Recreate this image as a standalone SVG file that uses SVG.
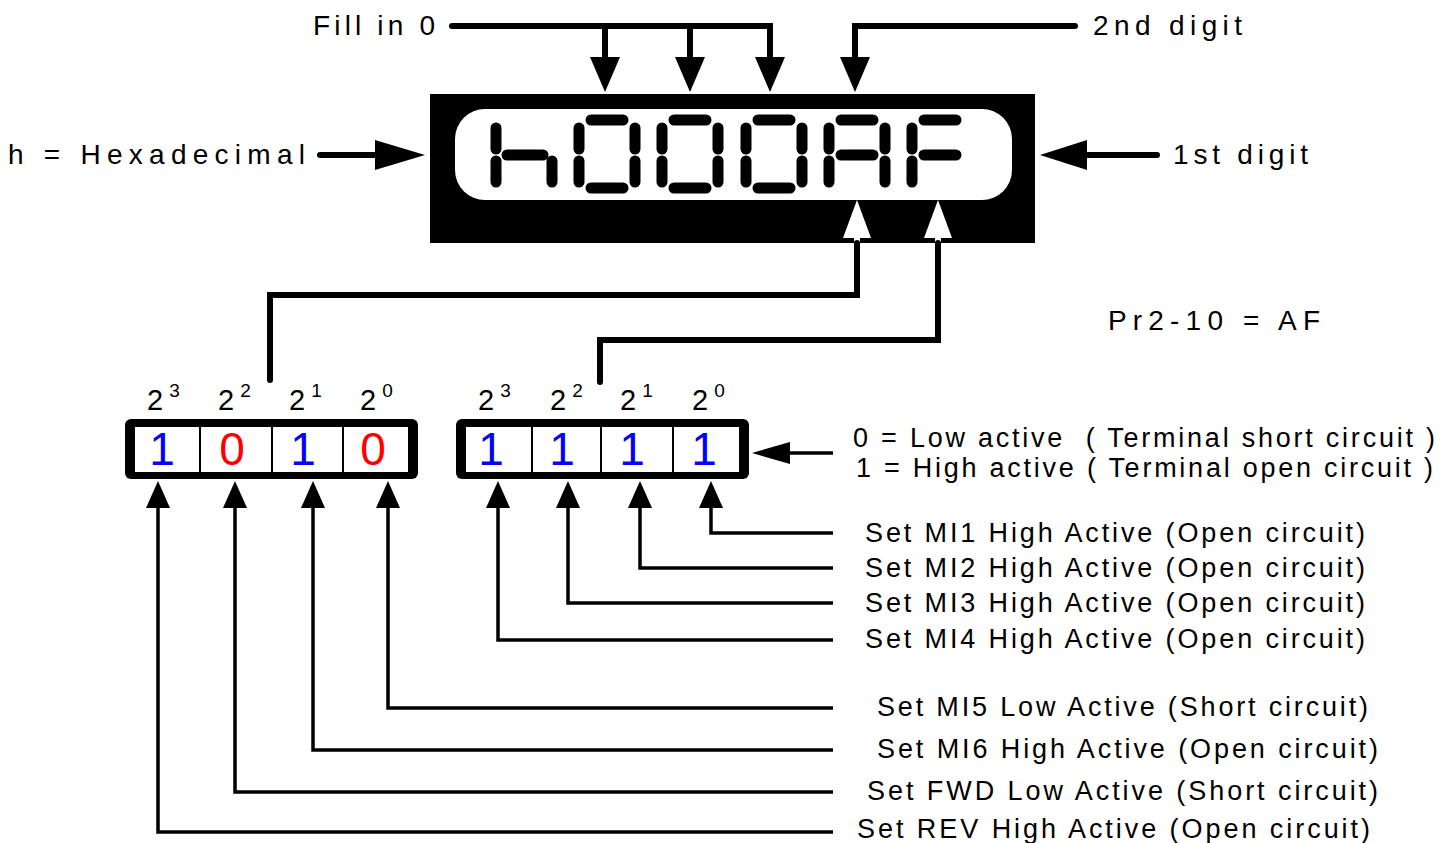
<svg xmlns="http://www.w3.org/2000/svg" width="1454" height="843" viewBox="0 0 1454 843">
<style>
text{font-family:"Liberation Sans",Arial,sans-serif;fill:#000}
.lbl{font-size:28px}
.set{font-size:27px}
.thick{fill:none;stroke:#000;stroke-width:6;stroke-linecap:round;stroke-linejoin:miter}
.thin{fill:none;stroke:#000;stroke-width:3.5;stroke-linecap:butt}
.seg{stroke:#000;stroke-width:11;stroke-linecap:round}
.b{fill:#0000ff;font-size:46px}
.r{fill:#ff0000;font-size:46px}
.pw{font-size:29px}
.sup{font-size:19px}
</style>
<defs>
<g id="top"><line class="seg" x1="12" y1="120" x2="44" y2="120"/></g>
<g id="mid"><line class="seg" x1="12" y1="155" x2="44" y2="155"/></g>
<g id="bot"><line class="seg" x1="12" y1="188" x2="44" y2="188"/></g>
<g id="ul"><line class="seg" x1="0" y1="128" x2="0" y2="149"/></g>
<g id="ll"><line class="seg" x1="0" y1="161" x2="0" y2="182"/></g>
<g id="ur"><line class="seg" x1="56" y1="128" x2="56" y2="149"/></g>
<g id="lr"><line class="seg" x1="56" y1="161" x2="56" y2="182"/></g>
<polygon id="ahDown" points="-15,-35 15,-35 0,0" fill="#000"/>
<polygon id="ahUp" points="-12,27 12,27 0,0" fill="#000"/>
</defs>

<g id="display">
<rect x="430" y="94" width="605" height="149" fill="#000"/>
<rect x="455" y="109" width="557" height="91" rx="30" ry="30" fill="#fff"/>
<g id="ch-h" transform="translate(496,0)"><use href="#ul"/><use href="#ll"/><line class="seg" x1="11" y1="155" x2="47" y2="155"/><use href="#lr"/></g>
<g id="ch-0a" transform="translate(579,0)"><use href="#top"/><use href="#ul"/><use href="#ur"/><use href="#ll"/><use href="#lr"/><use href="#bot"/></g>
<g id="ch-0b" transform="translate(662,0)"><use href="#top"/><use href="#ul"/><use href="#ur"/><use href="#ll"/><use href="#lr"/><use href="#bot"/></g>
<g id="ch-0c" transform="translate(746,0)"><use href="#top"/><use href="#ul"/><use href="#ur"/><use href="#ll"/><use href="#lr"/><use href="#bot"/></g>
<g id="ch-A" transform="translate(829,0)"><use href="#top"/><use href="#ul"/><use href="#ur"/><use href="#mid"/><use href="#ll"/><use href="#lr"/></g>
<g id="ch-F" transform="translate(912,0)"><use href="#top"/><use href="#ul"/><use href="#mid"/><use href="#ll"/></g>
<polygon points="857,200 843,238 871,238" fill="#fff"/>
<rect x="854" y="236" width="6" height="7" fill="#fff"/>
<polygon points="938,200 924,238 952,238" fill="#fff"/>
<rect x="935" y="236" width="6" height="7" fill="#fff"/>
</g>

<g id="labels-top">
<text class="lbl" x="313" y="35" textLength="122" lengthAdjust="spacing">Fill in 0</text>
<text class="lbl" x="1093" y="35" textLength="149" lengthAdjust="spacing">2nd digit</text>
<text class="lbl" x="8" y="164" textLength="297" lengthAdjust="spacing">h = Hexadecimal</text>
<text class="lbl" x="1173" y="164" textLength="135" lengthAdjust="spacing">1st digit</text>
<text class="lbl" x="1108" y="330" textLength="212" lengthAdjust="spacing">Pr2-10 = AF</text>
</g>

<g id="box-left">
<rect x="125" y="419" width="293" height="60" rx="6" fill="#000"/>
<rect x="135" y="427" width="273" height="45" fill="#fff"/>
<line x1="200" y1="427" x2="200" y2="472" stroke="#000" stroke-width="2"/>
<line x1="272" y1="427" x2="272" y2="472" stroke="#000" stroke-width="2"/>
<line x1="343" y1="427" x2="343" y2="472" stroke="#000" stroke-width="2"/>
<text class="b" x="162" y="465" text-anchor="middle">1</text>
<text class="r" x="232" y="465" text-anchor="middle">0</text>
<text class="b" x="303" y="465" text-anchor="middle">1</text>
<text class="r" x="373" y="465" text-anchor="middle">0</text>
<text class="pw" x="147" y="410">2<tspan class="sup" dx="6" dy="-13">3</tspan></text>
<text class="pw" x="218" y="410">2<tspan class="sup" dx="6" dy="-13">2</tspan></text>
<text class="pw" x="289" y="410">2<tspan class="sup" dx="6" dy="-13">1</tspan></text>
<text class="pw" x="360" y="410">2<tspan class="sup" dx="6" dy="-13">0</tspan></text>
</g>

<g id="box-right">
<rect x="456" y="419" width="293" height="60" rx="6" fill="#000"/>
<rect x="466" y="427" width="273" height="45" fill="#fff"/>
<line x1="532" y1="427" x2="532" y2="472" stroke="#000" stroke-width="2"/>
<line x1="601" y1="427" x2="601" y2="472" stroke="#000" stroke-width="2"/>
<line x1="673" y1="427" x2="673" y2="472" stroke="#000" stroke-width="2"/>
<text class="b" x="491" y="465" text-anchor="middle">1</text>
<text class="b" x="562" y="465" text-anchor="middle">1</text>
<text class="b" x="632" y="465" text-anchor="middle">1</text>
<text class="b" x="704" y="465" text-anchor="middle">1</text>
<text class="pw" x="478" y="410">2<tspan class="sup" dx="6" dy="-13">3</tspan></text>
<text class="pw" x="550" y="410">2<tspan class="sup" dx="6" dy="-13">2</tspan></text>
<text class="pw" x="620" y="410">2<tspan class="sup" dx="6" dy="-13">1</tspan></text>
<text class="pw" x="692" y="410">2<tspan class="sup" dx="6" dy="-13">0</tspan></text>
</g>

<g id="legend">
<text class="set" x="853" y="447" textLength="582" lengthAdjust="spacing" xml:space="preserve">0 = Low active  ( Terminal short circuit )</text>
<text class="set" x="856" y="477" textLength="577" lengthAdjust="spacing">1 = High active ( Terminal open circuit )</text>
</g>

<g id="set-labels">
<text class="set" x="865" y="542" textLength="500" lengthAdjust="spacing">Set MI1 High Active (Open circuit)</text>
<text class="set" x="865" y="577" textLength="500" lengthAdjust="spacing">Set MI2 High Active (Open circuit)</text>
<text class="set" x="865" y="612" textLength="500" lengthAdjust="spacing">Set MI3 High Active (Open circuit)</text>
<text class="set" x="865" y="648" textLength="500" lengthAdjust="spacing">Set MI4 High Active (Open circuit)</text>
<text class="set" x="877" y="716" textLength="491" lengthAdjust="spacing">Set MI5 Low Active (Short circuit)</text>
<text class="set" x="877" y="758" textLength="501" lengthAdjust="spacing">Set MI6 High Active (Open circuit)</text>
<text class="set" x="867" y="800" textLength="511" lengthAdjust="spacing">Set FWD Low Active (Short circuit)</text>
<text class="set" x="857" y="838" textLength="513" lengthAdjust="spacing">Set REV High Active (Open circuit)</text>
</g>

<g id="connectors">
<path class="thick" d="M452,26 H770 V58 M605,26 V58 M690,26 V58"/>
<path class="thick" d="M1075,26 H855 V58"/>
<use href="#ahDown" x="605" y="92"/>
<use href="#ahDown" x="690" y="92"/>
<use href="#ahDown" x="770" y="92"/>
<use href="#ahDown" x="855" y="92"/>
<path class="thick" d="M320,155 H380"/>
<polygon points="375,140 375,170 425,155" fill="#000"/>
<path class="thick" d="M1157,155 H1080"/>
<polygon points="1087,140 1087,170 1040,155" fill="#000"/>
<path class="thick" d="M270,380 V295 H857 V243"/>
<path class="thick" d="M600,382 V340 H938 V243"/>
<path class="thin" d="M833,453 H785"/>
<polygon points="790,442 790,464 752,453" fill="#000"/>
<path class="thin" d="M711,505 V533 H833"/>
<path class="thin" d="M640,505 V568 H833"/>
<path class="thin" d="M568,505 V603 H833"/>
<path class="thin" d="M498,505 V640 H833"/>
<path class="thin" d="M388,505 V708 H833"/>
<path class="thin" d="M313,505 V750 H833"/>
<path class="thin" d="M235,505 V792 H833"/>
<path class="thin" d="M158,505 V832 H833"/>
<use href="#ahUp" x="711" y="481"/>
<use href="#ahUp" x="640" y="481"/>
<use href="#ahUp" x="568" y="481"/>
<use href="#ahUp" x="498" y="481"/>
<use href="#ahUp" x="388" y="481"/>
<use href="#ahUp" x="313" y="481"/>
<use href="#ahUp" x="235" y="481"/>
<use href="#ahUp" x="158" y="481"/>
</g>
</svg>
